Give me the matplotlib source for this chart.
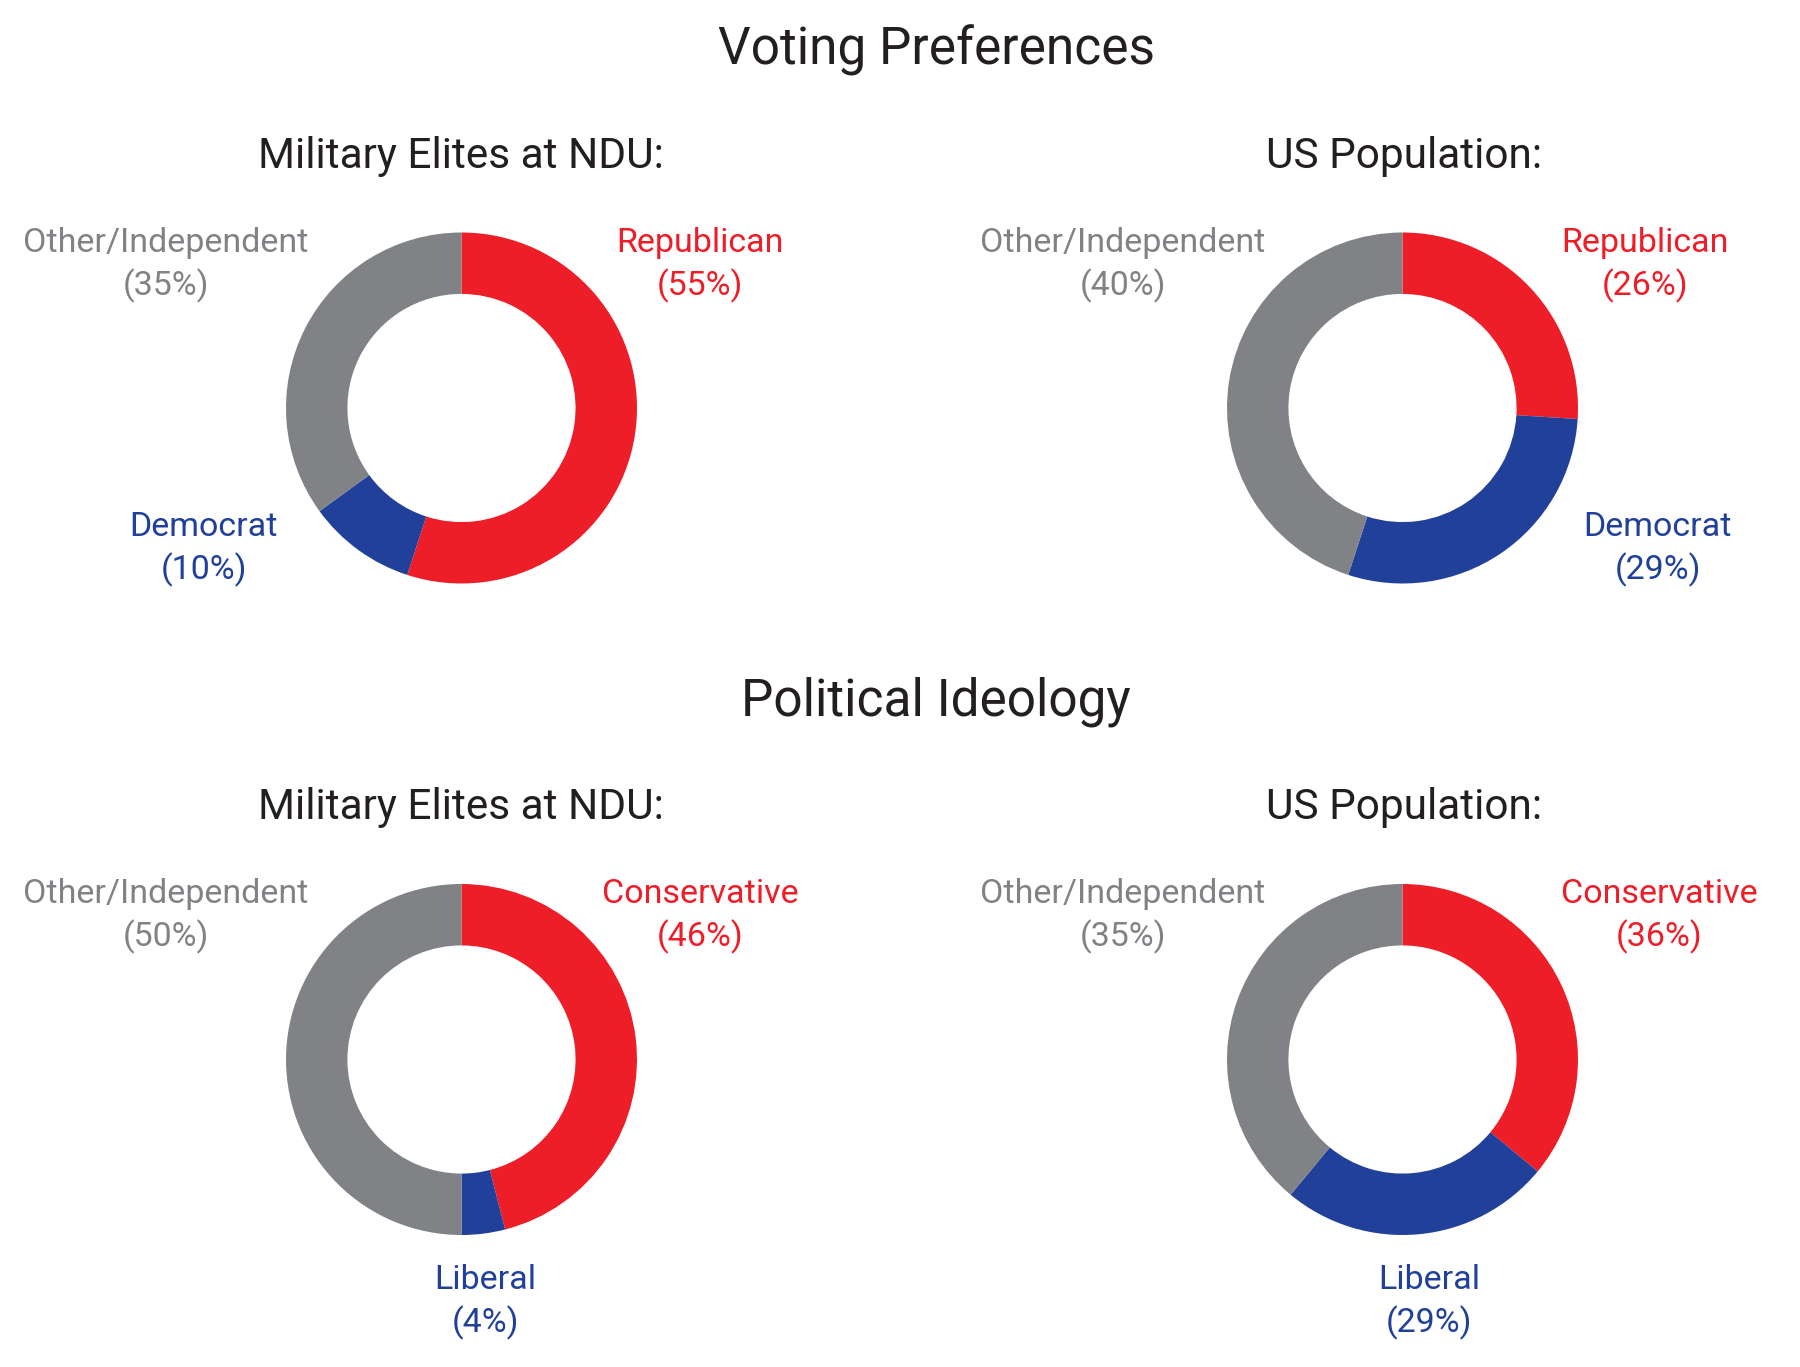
import matplotlib
matplotlib.use("Agg")
import matplotlib.pyplot as plt

# ---- data ----
section_titles = ["Voting Preferences", "Political Ideology"]
group_titles = ["Military Elites at NDU:", "US Population:"]
category_names = [["Republican", "Democrat", "Other/Independent"],
                  ["Conservative", "Liberal", "Other/Independent"]]
# percentages as labelled: [right-leaning, left-leaning, other]
voting_ndu = [55, 10, 35]
voting_us = [26, 29, 40]
ideology_ndu = [46, 4, 50]
ideology_us = [36, 29, 35]
# arc shares as drawn in the picture (grey fills the rest of each ring)
voting_ndu_arcs = [55, 10, 35]
voting_us_arcs = [26, 29, 45]
ideology_ndu_arcs = [46, 4, 50]
ideology_us_arcs = [36, 25, 39]

RED = "#ED1E28"
BLUE = "#21409A"
GREY = "#808285"
DARK = "#231F20"
FONT = ["Roboto", "DejaVu Sans"]

W, H = 1800, 1367
fig = plt.figure(figsize=(W / 100, H / 100), dpi=100)
fig.patch.set_facecolor("white")

def fx(x):
    return x / W

def fy(y):
    return 1 - y / H

R = 175.5  # outer radius in px

def donut(cx, cy, arcs):
    ax = fig.add_axes([fx(cx - R), fy(cy + R), 2 * R / W, 2 * R / H])
    ax.pie(arcs, colors=[RED, BLUE, GREY], startangle=90, counterclock=False,
           radius=1.0, wedgeprops=dict(width=0.35, edgecolor="none", linewidth=0))
    ax.set_xlim(-1, 1)
    ax.set_ylim(-1, 1)
    ax.set_aspect("equal")
    ax.axis("off")

LS = 24.5

def label(x, y, name, val, color):
    # y is the baseline of the first line
    fig.text(fx(x), fy(y), name, ha="center", va="baseline", color=color,
             fontsize=LS, family=FONT)
    fig.text(fx(x), fy(y + 43), f"({val}%)", ha="center", va="baseline", color=color,
             fontsize=LS, family=FONT)

# section titles
fig.text(fx(936), fy(65), section_titles[0], ha="center", va="baseline",
         fontsize=37, color=DARK, family=FONT)
fig.text(fx(936), fy(716), section_titles[1], ha="center", va="baseline",
         fontsize=37, color=DARK, family=FONT)

# group titles
for by in (168, 819):
    fig.text(fx(461), fy(by), group_titles[0], ha="center", va="baseline",
             fontsize=30.5, color=DARK, family=FONT)
    fig.text(fx(1404), fy(by), group_titles[1], ha="center", va="baseline",
             fontsize=30.5, color=DARK, family=FONT)

# top row: voting
donut(461.5, 408, voting_ndu_arcs)
donut(1402.5, 408, voting_us_arcs)
names = category_names[0]
label(700, 252, names[0], voting_ndu[0], RED)
label(204, 536, names[1], voting_ndu[1], BLUE)
label(166, 252, names[2], voting_ndu[2], GREY)
label(1645, 252, names[0], voting_us[0], RED)
label(1658, 536, names[1], voting_us[1], BLUE)
label(1123, 252, names[2], voting_us[2], GREY)

# bottom row: ideology
donut(461.5, 1059.5, ideology_ndu_arcs)
donut(1402.5, 1059.5, ideology_us_arcs)
names = category_names[1]
label(700, 903, names[0], ideology_ndu[0], RED)
label(485, 1289, names[1], ideology_ndu[1], BLUE)
label(166, 903, names[2], ideology_ndu[2], GREY)
label(1659, 903, names[0], ideology_us[0], RED)
label(1429, 1289, names[1], ideology_us[1], BLUE)
label(1123, 903, names[2], ideology_us[2], GREY)

fig.savefig("out.png", dpi=100, facecolor="white")
